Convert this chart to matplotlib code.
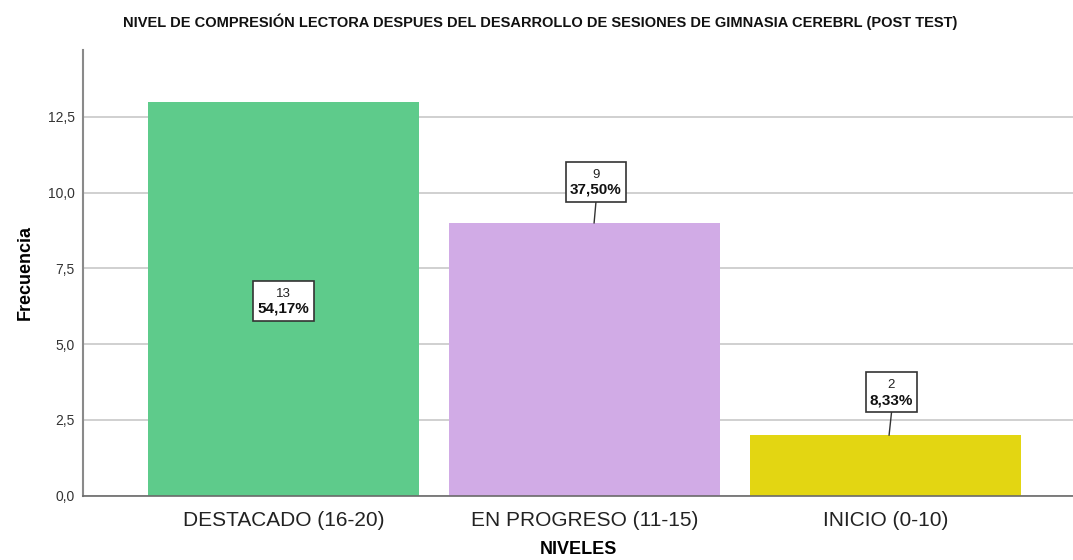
import matplotlib
matplotlib.use("Agg")
import matplotlib.pyplot as plt
from matplotlib import font_manager
from matplotlib.patches import Rectangle
from matplotlib.transforms import ScaledTranslation

categories = ["DESTACADO (16-20)", "EN PROGRESO (11-15)", "INICIO (0-10)"]
counts = [13, 9, 2]
percents = ["54,17%", "37,50%", "8,33%"]
colors = ["#5ECB8B", "#D1ABE6", "#E3D612"]
yticks = [0.0, 2.5, 5.0, 7.5, 10.0, 12.5]

names = {f.name for f in font_manager.fontManager.ttflist}
sans = "Liberation Sans" if "Liberation Sans" in names else "DejaVu Sans"
plt.rcParams['font.family'] = [sans, 'DejaVu Sans']

fig = plt.figure(figsize=(10.73, 5.6), dpi=100)
ax = fig.add_axes([83/1073, 1-495.7/560, (1073-83)/1073, (495.7-50)/560])

x = list(range(len(categories)))
ax.bar(x, counts, width=0.9, color=colors, zorder=2)
ax.set_xlim(-0.666, 2.623)
ax.set_ylim(0, 14.7)
ax.set_yticks(yticks)
ax.set_yticklabels([f"{v:.1f}".replace(".", ",") for v in yticks], fontsize=10, color="#333333")
ax.set_xticks(x)
ax.set_xticklabels(categories, fontsize=15, color="#222222")
ax.tick_params(axis="y", length=0, pad=6)
ax.tick_params(axis="x", length=0, pad=11)
ax.grid(axis="y", color="#C8C8C8", linewidth=1.2, zorder=0)
for s in ["top", "right"]:
    ax.spines[s].set_visible(False)
ax.spines["left"].set_color("#8A8A8A")
ax.spines["left"].set_linewidth(1.5)
ax.spines["bottom"].set_color("#6A6A6A")
ax.spines["bottom"].set_linewidth(1.2)

ax.set_ylabel("Frecuencia", fontsize=13, fontweight="bold", labelpad=10)
ax.set_xlabel("NIVELES", fontsize=13, fontweight="bold", labelpad=8)

fig.text(540/1073, 1-22/560, "NIVEL DE COMPRESIÓN LECTORA DESPUES DEL DESARROLLO DE SESIONES DE GIMNASIA CEREBRL (POST TEST)",
         ha="center", va="center", fontsize=10.5, fontweight="bold", color="#111111")

# label boxes: (box x offset, box centre y, leader end x offset, box width in inches)
label_pos = [(0.0, 6.43, 0.0, 0.61), (0.038, 10.35, 0.032, 0.60), (0.02, 3.42, 0.012, 0.51)]
box_h = 0.40
for i, (c, p) in enumerate(zip(counts, percents)):
    dx, ly, ex, bw = label_pos[i]
    bx = x[i] + dx
    if i > 0:
        ax.plot([bx, x[i] + ex], [ly - 0.68, c], color="#333333", lw=1, zorder=3)
    tr = fig.dpi_scale_trans + ScaledTranslation(bx, ly, ax.transData)
    ax.add_patch(Rectangle((-bw / 2, -box_h / 2), bw, box_h, transform=tr,
                           fc="white", ec="#333333", lw=1.2, zorder=5))
    ax.annotate(str(c), (bx, ly), xytext=(0, 5.2), textcoords="offset points",
                ha="center", va="center", fontsize=9.5, color="#222222", zorder=6)
    ax.annotate(p, (bx, ly), xytext=(0, -5.8), textcoords="offset points",
                ha="center", va="center", fontsize=11, fontweight="bold", color="#111111", zorder=6)

fig.savefig("out.png", dpi=100)
